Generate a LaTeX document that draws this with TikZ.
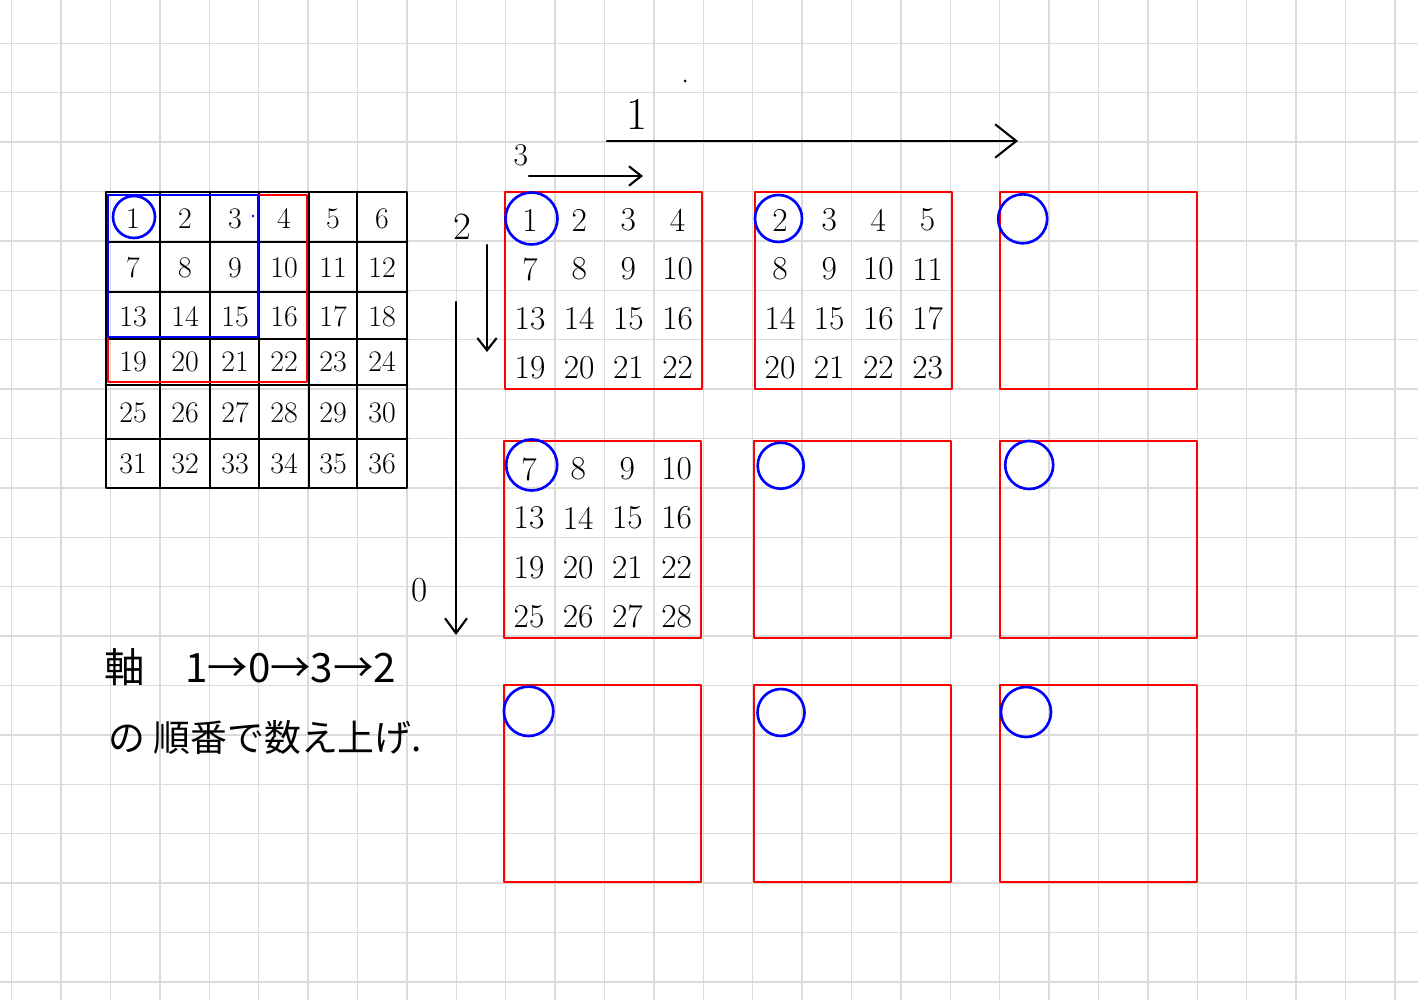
\documentclass[tikz,border=0pt]{standalone}
\usepackage{fontspec}
\newfontfamily\jpfont{Noto Sans CJK JP}
\usetikzlibrary{arrows.meta}
\begin{document}
\begin{tikzpicture}[x=0.02cm,y=-0.02cm,line cap=round,line join=round,
	gridline/.style={black!14,line width=0.8pt},
	tbl/.style={black,line width=1.6pt},
	redbox/.style={red,line width=1.4pt},
	bluering/.style={blue,line width=1.5pt},
	num/.style={inner sep=0pt,font=\fontsize{19}{21}\selectfont},
	tnum/.style={inner sep=0pt,font=\fontsize{17}{19}\selectfont},
	lbl/.style={inner sep=0pt},
	jp/.style={inner sep=0pt,font=\jpfont\fontsize{23}{26}\selectfont},
	axisarrow/.style={black,line width=1.2pt}]
	\useasboundingbox (0,0) rectangle (1418,1000);
	\fill[white] (0,0) rectangle (1418,1000);
	% squared paper
	\foreach \k in {0,...,28}
	\draw[gridline] ({11.7+49.4*\k},0) -- ++(0,1000);
	\foreach \k in {0,...,19}
	\draw[gridline] (0,{43.3+49.4*\k}) -- ++(1418,0);
	% 6x6 table
	\draw[tbl] (106,192) rectangle (407,488);
	\foreach \x in {160,210,259,309,357}
	\draw[tbl] (\x,192) -- (\x,488);
	\foreach \y in {242,292,339,385,439}
	\draw[tbl] (106,\y) -- (407,\y);
	\draw[redbox] (108,195) rectangle (307,382);
	\draw[bluering] (108,195) rectangle (258,337);
	\draw[bluering] (134,217) circle (21);
	\fill[blue] (253,216) circle (1.3);
	\foreach \r/\y in {0/219,1/268,2/317,3/362,4/413,5/464}
	\foreach \c/\x in {0/133,1/185,2/235,3/284,4/333,5/382}{
		\pgfmathtruncatemacro\num{6*\r+\c+1}
		\node[tnum] (t\num) at (\x,\y) {\num};
	}
	% note
	\node[jp,anchor=west] (notea) at (104,667) {軸\quad 1→0→3→2};
	\node[jp,anchor=west,font=\jpfont\fontsize{21}{24}\selectfont] (noteb) at (108,738) {の 順番で数え上げ.};
	% axes
	\coordinate (a1s) at (607,141);
	\coordinate (a1e) at (1018,141);
	\coordinate (a3s) at (529,176);
	\coordinate (a3e) at (643,176);
	\coordinate (a2s) at (487,245);
	\coordinate (a2e) at (487,352);
	\coordinate (a0s) at (456,302);
	\coordinate (a0e) at (456,635);
	\draw[axisarrow,-{Straight Barb[length=12pt,width=19pt]}] (a1s) -- (a1e);
	\draw[axisarrow,-{Straight Barb[length=7pt,width=11pt]}] (a3s) -- (a3e);
	\draw[axisarrow,-{Straight Barb[length=7pt,width=11pt]}] (a2s) -- (a2e);
	\draw[axisarrow,-{Straight Barb[length=8.5pt,width=12.5pt]}] (a0s) -- (a0e);
	\node[lbl,font=\fontsize{26}{28}\selectfont] (l1) at (637,114) {1};
	\node[lbl,font=\fontsize{18}{20}\selectfont] (l3) at (521,155) {3};
	\node[lbl,font=\fontsize{22}{24}\selectfont] (l2) at (462,227) {2};
	\node[lbl,font=\fontsize{20}{22}\selectfont] (l0) at (420,590) {0};
	\fill (685,81) circle (1.5);
	% 3x3 windows
	\foreach \x/\y in {505/192,755/192,1000/192,504/441,754/441,1000/441,504/685,754/685,1000/685}
	\draw[redbox] (\x,\y) rectangle ++(197,197);
	\foreach \cx/\cy/\rad in {531.5/218.5/26,778.5/218.5/23.5,1022.7/218.8/24.5,531.7/465/25.5,780.7/465.7/23,1029.2/465/24,528.6/711.3/24.7,781/712.5/23.5,1026/712/25}
	\draw[bluering] (\cx,\cy) circle (\rad);
	\foreach \bx/\by/\off/\tag in {505/192/0/a,755/192/1/b,504/441/6/d}
	\foreach \r in {0,...,3}
	\foreach \c in {0,...,3}{
		\pgfmathtruncatemacro\num{6*\r+\c+1+\off}
		\node[num] (\tag\r\c) at ({\bx+25+49.2*\c},{\by+28+49.2*\r}) {\num};
	}
\end{tikzpicture}
\end{document}
